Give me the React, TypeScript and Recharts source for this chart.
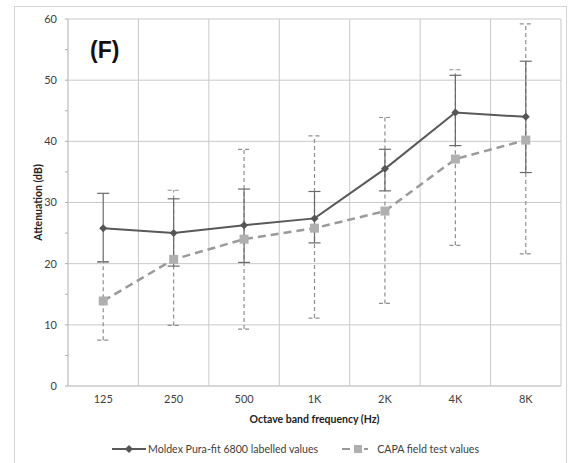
import React from "react";
import {
  ComposedChart,
  Line,
  XAxis,
  YAxis,
  CartesianGrid,
  ErrorBar,
  Legend,
} from "recharts";

const categories = ["125", "250", "500", "1K", "2K", "4K", "8K"];
const moldexValues = [25.8, 25.0, 26.3, 27.4, 35.5, 44.7, 44.0];
const moldexLow = [20.3, 19.6, 20.2, 23.4, 31.9, 39.3, 34.9];
const moldexHigh = [31.5, 30.6, 32.2, 31.8, 38.7, 50.8, 53.1];
const capaValues = [13.9, 20.7, 24.0, 25.8, 28.6, 37.1, 40.2];
const capaLow = [7.5, 9.9, 9.3, 11.1, 13.5, 23.0, 21.6];
const capaHigh = [20.3, 32.0, 38.7, 40.9, 43.9, 51.7, 59.2];
const yTicks = [0, 5, 10, 15, 20, 25, 30, 35, 40, 45, 50, 55, 60];
const gridValues = [0, 10, 20, 30, 40, 50, 60];

const MOLDEX_NAME = "Moldex Pura-fit 6800 labelled values";
const CAPA_NAME = "CAPA field test values";

const FONT = "Lato, 'Liberation Sans', sans-serif";
const GRID = "#c9c9c9";

const data = categories.map((name, i) => ({
  name,
  moldex: moldexValues[i],
  moldexErr: [moldexValues[i] - moldexLow[i], moldexHigh[i] - moldexValues[i]],
  capa: capaValues[i],
  capaErr: [capaValues[i] - capaLow[i], capaHigh[i] - capaValues[i]],
}));

function Diamond(props: any) {
  const { cx, cy } = props;
  if (cx == null || cy == null) return null;
  const r = 4;
  return (
    <polygon
      points={`${cx},${cy - r} ${cx + r},${cy} ${cx},${cy + r} ${cx - r},${cy}`}
      fill="#555555"
    />
  );
}

function Square(props: any) {
  const { cx, cy } = props;
  if (cx == null || cy == null) return null;
  const s = 9;
  return <rect x={cx - s / 2} y={cy - s / 2} width={s} height={s} fill="#b0b0b0" />;
}

function LegendContent() {
  return (
    <div
      style={{
        display: "flex",
        justifyContent: "center",
        alignItems: "center",
        height: 33,
        paddingTop: 4,
        paddingLeft: 30,
        boxSizing: "border-box",
        fontFamily: FONT,
        fontSize: 10.6,
        color: "#404040",
      }}
    >
      <svg width={34} height={10}>
        <line x1={0} y1={5} x2={34} y2={5} stroke="#595959" strokeWidth={2} />
        <polygon points="17,1 21,5 17,9 13,5" fill="#555555" />
      </svg>
      <span style={{ marginLeft: 2 }}>{MOLDEX_NAME}</span>
      <svg width={26} height={10} style={{ marginLeft: 24 }}>
        <line x1={0} y1={5} x2={8} y2={5} stroke="#9a9a9a" strokeWidth={2} />
        <rect x={12} y={1} width={8} height={8} fill="#b0b0b0" />
        <line x1={22} y1={5} x2={26} y2={5} stroke="#9a9a9a" strokeWidth={2} />
      </svg>
      <span style={{ marginLeft: 9 }}>{CAPA_NAME}</span>
    </div>
  );
}

export default function App() {
  return (
    <div
      style={{
        position: "absolute",
        left: 0,
        top: 0,
        width: 577,
        height: 463,
        overflow: "hidden",
        background: "#ffffff",
      }}
    >
      <div
        style={{
          position: "absolute",
          left: 14,
          top: 6,
          width: 551,
          height: 480,
          border: "1.5px solid #d4d4d4",
        }}
      />
      <ComposedChart
        width={577}
        height={463}
        data={data}
        margin={{ top: 19, right: 16, left: 0, bottom: 0 }}
        style={{ position: "absolute", left: 0, top: 0 }}
      >
        <CartesianGrid
          stroke={GRID}
          strokeWidth={1}
          horizontalValues={gridValues}
          verticalCoordinatesGenerator={({ offset }: any) =>
            categories
              .concat([""])
              .map((_, i) => offset.left + (i * offset.width) / categories.length)
          }
        />
        <XAxis
          dataKey="name"
          scale="band"
          height={44}
          axisLine={{ stroke: GRID }}
          tickLine={false}
          tickSize={0}
          tickMargin={9}
          tick={{ fontSize: 11, fill: "#404040", fontFamily: FONT }}
          label={{
            value: "Octave band frequency (Hz)",
            position: "insideBottom",
            offset: 7,
            style: { fontSize: 10.5, fontWeight: 700, fill: "#222", fontFamily: FONT },
          }}
        />
        <YAxis
          width={68}
          domain={[0, 60]}
          ticks={yTicks}
          interval={0}
          axisLine={{ stroke: GRID }}
          tickLine={{ stroke: "#b0b0b0" }}
          tickSize={3}
          tickMargin={8}
          tickFormatter={(v: number) => (v % 10 === 0 ? String(v) : "")}
          tick={{ fontSize: 11, fill: "#404040", fontFamily: FONT }}
          label={{
            value: "Attenuation (dB)",
            angle: -90,
            position: "insideLeft",
            offset: 38,
            style: { textAnchor: "middle", fontSize: 10.5, fontWeight: 700, fill: "#222", fontFamily: FONT },
          }}
        />
        <Legend verticalAlign="bottom" height={33} content={() => <LegendContent />} />
        <Line
          dataKey="capa"
          name={CAPA_NAME}
          stroke="#9a9a9a"
          strokeWidth={2.5}
          strokeDasharray="8 5"
          dot={<Square />}
          activeDot={false}
          isAnimationActive={false}
        >
          <ErrorBar
            dataKey="capaErr"
            direction="y"
            width={6}
            stroke="#8f8f8f"
            strokeWidth={1.2}
            strokeDasharray="4 3"
          />
        </Line>
        <Line
          dataKey="moldex"
          name={MOLDEX_NAME}
          stroke="#595959"
          strokeWidth={2}
          dot={<Diamond />}
          activeDot={false}
          isAnimationActive={false}
        >
          <ErrorBar dataKey="moldexErr" direction="y" width={6} stroke="#6a6a6a" strokeWidth={1.2} />
        </Line>
      </ComposedChart>
      <div
        style={{
          position: "absolute",
          left: 90,
          top: 37,
          fontFamily: "'Liberation Sans', Arial, sans-serif",
          fontWeight: 700,
          fontSize: 23,
          color: "#111",
        }}
      >
        (F)
      </div>
    </div>
  );
}
